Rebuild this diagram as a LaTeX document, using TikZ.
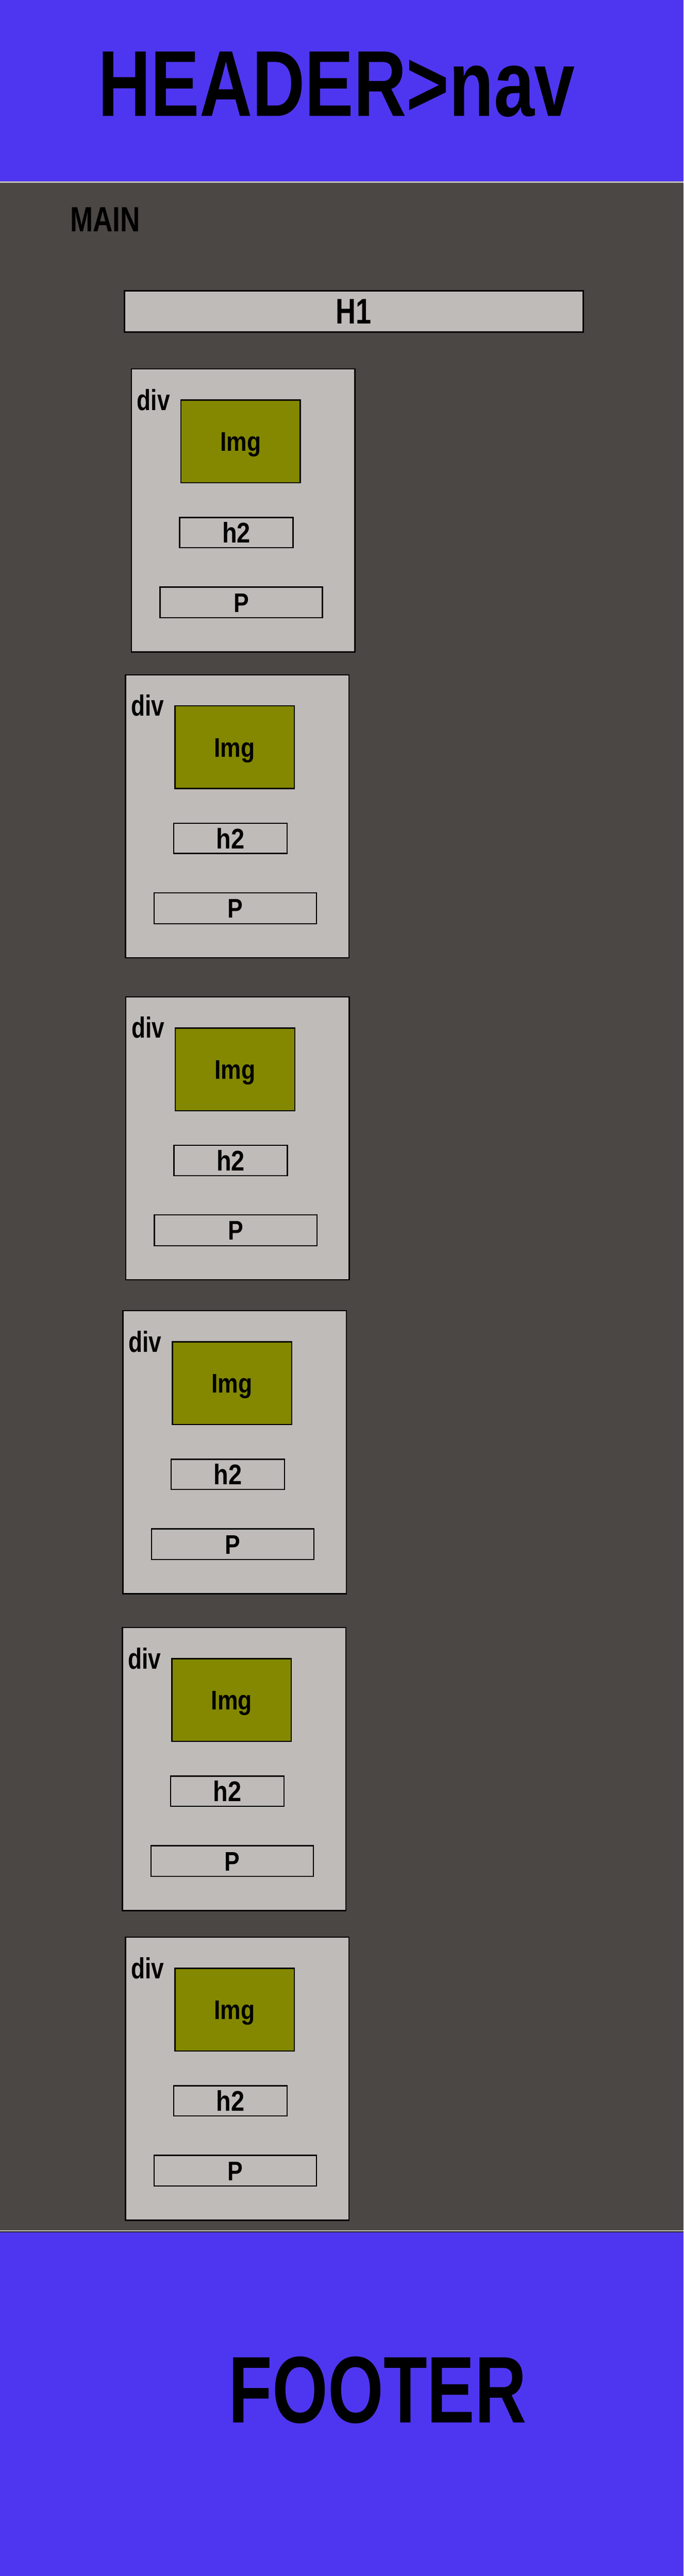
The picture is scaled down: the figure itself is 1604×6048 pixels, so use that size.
\documentclass[tikz,border=0pt]{standalone}
\usepackage{fontspec}
\setmainfont{Liberation Sans}
\newfontfamily\headfont{Liberation Sans}[FakeStretch=0.78]
\newfontfamily\footfont{Liberation Sans}[FakeStretch=0.755]
\newfontfamily\tagfont{Liberation Sans}[FakeStretch=0.85]
\usetikzlibrary{positioning}

\definecolor{pageblue}{HTML}{4E36F0}
\definecolor{maingray}{HTML}{4B4745}
\definecolor{sepgray}{HTML}{C0BCB9}
\definecolor{boxgray}{HTML}{BFBBB8}
\definecolor{imgolive}{HTML}{838800}

\tikzset{
    divbox/.style={draw=black, fill=boxgray, line width=0.85pt, minimum width=5.24cm, minimum height=6.64cm, inner sep=0pt},
    imgbox/.style={draw=black, fill=imgolive, line width=0.85pt, minimum width=2.80cm, minimum height=1.94cm,
        font=\tagfont\bfseries\fontsize{18pt}{20pt}\selectfont, text height=13pt, text depth=0pt},
    hbox/.style={draw=black, fill=boxgray, line width=0.85pt, minimum width=2.66cm, minimum height=0.68cm,
        font=\tagfont\bfseries\fontsize{19pt}{21pt}\selectfont, text height=13.5pt, text depth=0pt},
    pbox/.style={draw=black, fill=boxgray, line width=0.85pt, minimum width=3.81cm, minimum height=0.72cm,
        font=\tagfont\bfseries\fontsize{18pt}{20pt}\selectfont, text height=13pt, text depth=0pt},
    tag/.style={inner sep=0pt, font=\headfont\bfseries\fontsize{19.5pt}{21pt}\selectfont},
}

\begin{document}
\begin{tikzpicture}[x=0.01cm, y=-0.01cm]
    \useasboundingbox (0,0) rectangle (1604,6048);

    % Header, main and footer bands
    \fill[pageblue] (0,0) rectangle (1604,426);
    \fill[sepgray] (0,426) rectangle (1604,429);
    \fill[maingray] (0,429) rectangle (1604,5236);
    \fill[sepgray] (0,5236) rectangle (1604,5239);
    \fill[black!85] (0,5239) rectangle (1604,5241);
    \fill[pageblue] (0,5241) rectangle (1604,6048);

    % Titles
    \node[inner sep=0pt, font=\headfont\bfseries\fontsize{62.5pt}{70pt}\selectfont] (header) at (790,198.5) {HEADER>nav};
    \node[inner sep=0pt, anchor=base west, font=\headfont\bfseries\fontsize{23.4pt}{26pt}\selectfont] (mainlabel) at (164,544) {MAIN};
    \node[draw=black, fill=boxgray, line width=1.1pt, minimum width=10.76cm, minimum height=0.97cm,
        font=\headfont\bfseries\fontsize{23.8pt}{26pt}\selectfont] (hone) at (830,731.5) {H1};
    \node[inner sep=0pt, font=\footfont\bfseries\fontsize{63.2pt}{70pt}\selectfont] (footer) at (886,5611.5) {FOOTER};

    % Cards (top left corner of each div)
    \foreach \n/\x/\y in {1/307/865, 2/293/1583, 3/294/2339, 4/287/3076, 5/286/3820, 6/293/4547} {
        \node[divbox] (div\n) at (\x+263.5,\y+333.5) {};
        \node[tag, anchor=base west] (divtag\n) at (\x+14,\y+98) {div};
        \node[imgbox] (img\n) at (\x+257.5,\y+171.5) {Img};
        \node[hbox] (htwo\n) at (\x+247.5,\y+385.5) {h2};
        \node[pbox] (para\n) at (\x+259,\y+549.5) {P};
    }
\end{tikzpicture}
\end{document}
